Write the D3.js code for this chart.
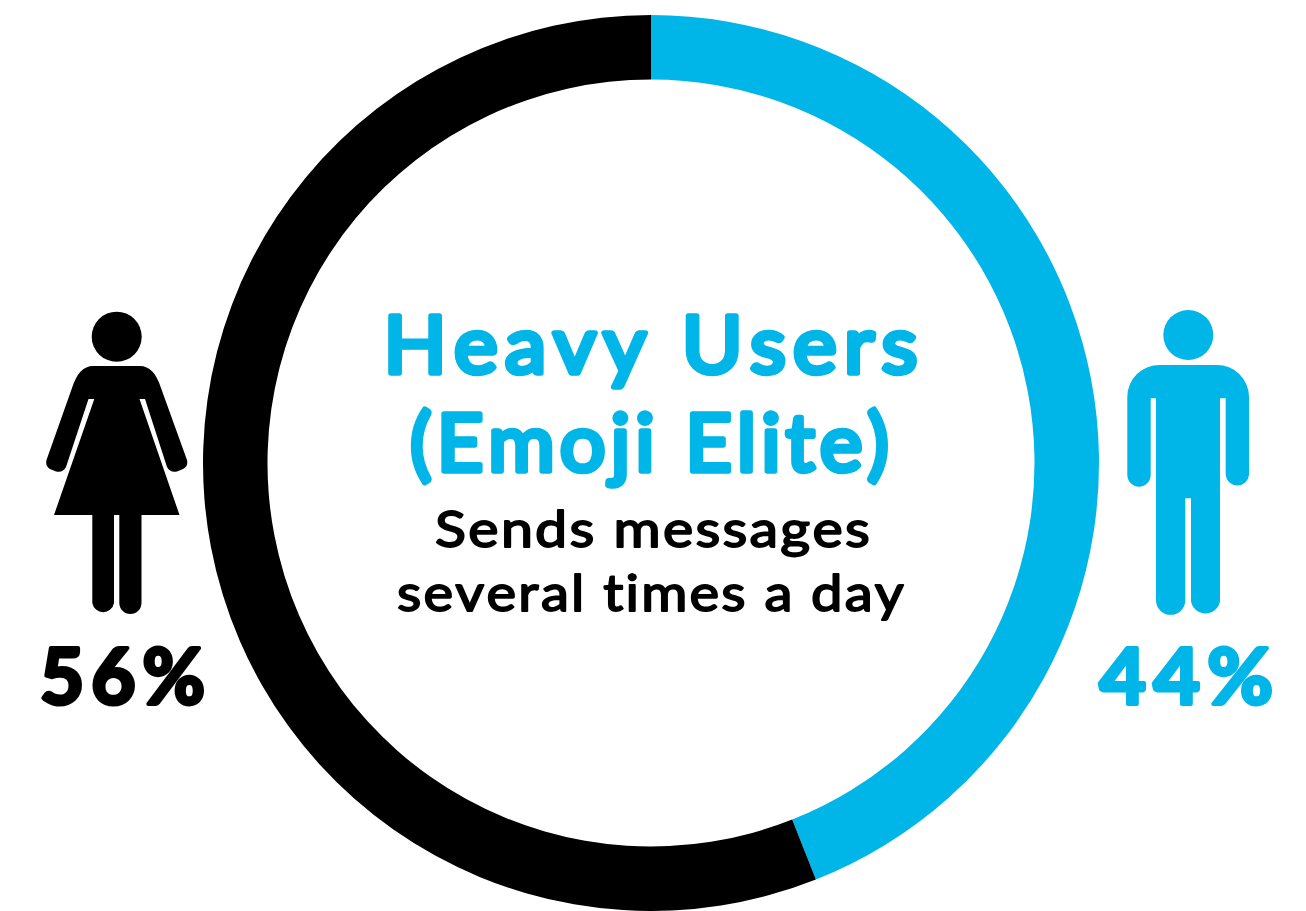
<!DOCTYPE html>
<html>
<head>
<meta charset="utf-8">
<script src="https://cdn.jsdelivr.net/npm/d3@7/dist/d3.min.js"></script>
<style>
  html, body { margin: 0; padding: 0; background: #fff; }
  svg { display: block; }
  text { font-family: Lato, "Noto Sans", sans-serif; text-anchor: middle; stroke-linejoin: round; paint-order: stroke; font-kerning: none; }
</style>
</head>
<body>
<svg id="chart" width="1306" height="911"></svg>
<script>
// Gender split among heavy emoji users
const genders = ["Male", "Female"];
const shares = [44, 56];
const shareColors = ["#00b5e8", "#000000"];
const titleLines = ["Heavy Users", "(Emoji Elite)"];
const subtitleLines = ["Sends messages", "several times a day"];

const svg = d3.select("#chart");
const ring = svg.append("g").attr("transform", "translate(651,463)");

const pie = d3.pie().sort(null).value(d => d);
const arc = d3.arc().innerRadius(383.5).outerRadius(448);

ring.selectAll("path")
  .data(pie(shares))
  .join("path")
  .attr("d", arc)
  .attr("fill", (d, i) => shareColors[i]);

// A round-joined stroke over a lighter weight gives the soft letter ends;
// glyphs are widened to the line's set width
function addLine(str, x, baseline, size, weight, stroke, color, spacing, width) {
  return svg.append("text")
    .attr("x", x).attr("y", baseline)
    .attr("font-size", size).attr("font-weight", weight)
    .attr("fill", color).attr("stroke", color).attr("stroke-width", stroke)
    .attr("textLength", width).attr("lengthAdjust", "spacingAndGlyphs")
    .style("letter-spacing", spacing + "px")
    .text(str);
}

addLine(titleLines[0], 654, 373, 80, 400, 5.5, shareColors[0], 7, 541);
addLine(titleLines[1], 652, 471, 80, 400, 5.5, shareColors[0], 5, 484);
addLine(subtitleLines[0], 653.5, 547, 51, 400, 1.8, shareColors[1], 2, 437);
addLine(subtitleLines[1], 651.5, 611, 51, 400, 1.8, shareColors[1], 2, 509);

addLine(shares[1] + "%", 126, 704, 76, 700, 4, shareColors[1], 7, 172);
addLine(shares[0] + "%", 1190, 704, 76, 700, 4, shareColors[0], 7, 181);

// Pictogram figures
const woman = svg.append("g").attr("fill", shareColors[1]);
woman.append("circle").attr("cx", 116.7).attr("cy", 336.7).attr("r", 25);
woman.append("path").attr("d",
  "M93,366 L140,366 Q154,366 161,388 L187,460 Q188.5,466 183,469 L177,471.5 Q170,473 167,467 " +
  "L145,399 L139.5,399 L179.5,515 L141.5,515 L141.5,603 A11,11 0 0 1 119.3,603 L119.3,515 L114,515 " +
  "L114,603 A11,11 0 0 1 92.3,603 L92.3,515 L54,515 L94.3,399 L88.5,399 L66,467 Q63,473 56,471.5 " +
  "L50,469 Q45,466 46.5,460 L72,388 Q79,366 93,366 Z");

const man = svg.append("g").attr("fill", shareColors[0]);
man.append("circle").attr("cx", 1188.3).attr("cy", 335).attr("r", 25);
man.append("path").attr("d",
  "M1160,365 L1216.7,365 A32,32 0 0 1 1249,397 L1249,475 A11.7,11.7 0 0 1 1225.7,475 L1225.7,398.3 " +
  "L1220,398.3 L1220,601.3 A14.7,14.7 0 0 1 1191,601.3 L1191,498.3 L1185.3,498.3 L1185.3,601.3 " +
  "A14.7,14.7 0 0 1 1156,601.3 L1156,398.3 L1150.7,398.3 L1150.7,475 A11.7,11.7 0 0 1 1127.3,475 " +
  "L1127.3,397 A32,32 0 0 1 1160,365 Z");
</script>
</body>
</html>
